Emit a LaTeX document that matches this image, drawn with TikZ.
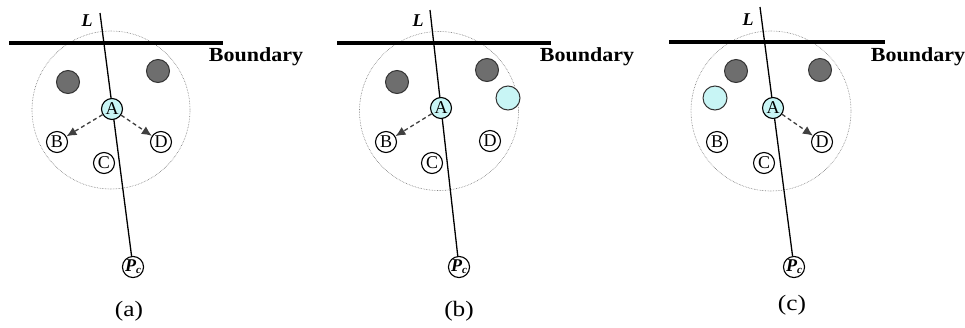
\documentclass[tikz,border=0pt]{standalone}
\usepackage{fontspec}
\setmainfont{Liberation Serif}
\usetikzlibrary{arrows.meta}
\definecolor{nodegray}{RGB}{110,110,110}
\definecolor{nodecyan}{RGB}{200,245,245}
\definecolor{dotgray}{RGB}{120,120,120}
\tikzset{
  letternode/.style={circle, draw, line width=1.1pt, fill=white, inner sep=0pt, minimum size=21pt,
    font=\fontsize{18}{18}\selectfont},
  anode/.style={letternode, fill=nodecyan},
  graynode/.style={circle, draw=black!80, line width=1pt, fill=nodegray, minimum size=23pt, inner sep=0pt},
  cyannode/.style={circle, draw=black!80, line width=1pt, fill=nodecyan, minimum size=24pt, inner sep=0pt},
  rangecircle/.style={circle, draw=dotgray, densely dotted, line width=0.6pt, inner sep=0pt},
  boundaryline/.style={line width=3.5pt},
  lline/.style={line width=1.3pt},
  boundarytext/.style={font=\fontsize{20}{20}\selectfont\bfseries, xscale=1.1, anchor=west},
  capt/.style={font=\fontsize{22}{22}\selectfont, xscale=1.15},
  ltext/.style={font=\fontsize{18}{18}\selectfont\bfseries\itshape},
  darrow/.style={dashed, dash pattern=on 4pt off 3pt, line width=1.3pt, black!75, -{Latex[length=10pt,width=9pt]}},
}
\begin{document}
\begin{tikzpicture}[x=1pt,y=-1pt]
\useasboundingbox (0,0) rectangle (965,327);
% ---------- (a)
\node[rangecircle, minimum size=158pt] (a-R) at (111,110) {};
\draw[boundaryline] (9,43) coordinate (a-b1) -- (223,43) coordinate (a-b2);
\node[boundarytext] (a-bt) at (205,57) {Boundary};
\coordinate (a-top) at (100,13);
\node[letternode] (a-P) at (133,267) {\textbf{\textit{P}}\raisebox{-2pt}{\fontsize{11}{11}\selectfont\textbf{\textit{c}}}};
\draw[lline] (a-top) -- (a-P);
\node[ltext] (a-L) at (87,21) {L};
\node[graynode] (a-g1) at (68,82) {};
\node[graynode] (a-g2) at (158,71) {};
\node[anode] (a-A) at (112,109) {A};
\node[letternode] (a-B) at (57,142) {B};
\node[letternode] (a-D) at (161,142) {D};
\node[letternode] (a-C) at (104,163) {C};
\draw[darrow] (a-A) -- (a-B);
\draw[darrow] (a-A) -- (a-D);
\node[capt] (a-cap) at (129,311) {(a)};
% ---------- (b)
\node[rangecircle, minimum size=159pt] (b-R) at (439,111) {};
\draw[boundaryline] (337,43) coordinate (b-b1) -- (551,43) coordinate (b-b2);
\node[boundarytext] (b-bt) at (536,57) {Boundary};
\coordinate (b-top) at (430,10);
\node[letternode] (b-P) at (459,267) {\textbf{\textit{P}}\raisebox{-2pt}{\fontsize{11}{11}\selectfont\textbf{\textit{c}}}};
\draw[lline] (b-top) -- (b-P);
\node[ltext] (b-L) at (418,21) {L};
\node[graynode] (b-g1) at (397,82) {};
\node[graynode] (b-g2) at (487,70) {};
\node[cyannode] (b-n) at (508,98) {};
\node[anode] (b-A) at (441,108) {A};
\node[letternode] (b-B) at (386,142) {B};
\node[letternode] (b-D) at (490,141) {D};
\node[letternode] (b-C) at (432,163) {C};
\draw[darrow] (b-A) -- (b-B);
\node[capt] (b-cap) at (459,311) {(b)};
% ---------- (c)
\node[rangecircle, minimum size=160pt] (c-R) at (771,111) {};
\draw[boundaryline] (669,42) coordinate (c-b1) -- (885,42) coordinate (c-b2);
\node[boundarytext] (c-bt) at (867,57) {Boundary};
\coordinate (c-top) at (760,7);
\node[letternode] (c-P) at (794,267) {\textbf{\textit{P}}\raisebox{-2pt}{\fontsize{11}{11}\selectfont\textbf{\textit{c}}}};
\draw[lline] (c-top) -- (c-P);
\node[ltext] (c-L) at (748,20) {L};
\node[graynode] (c-g1) at (736,71) {};
\node[graynode] (c-g2) at (820,70) {};
\node[cyannode] (c-n) at (715,98) {};
\node[anode] (c-A) at (773,108) {A};
\node[letternode] (c-B) at (717,142) {B};
\node[letternode] (c-D) at (822,142) {D};
\node[letternode] (c-C) at (764,163) {C};
\draw[darrow] (c-A) -- (c-D);
\node[capt] (c-cap) at (792,305) {(c)};
\end{tikzpicture}
\end{document}
